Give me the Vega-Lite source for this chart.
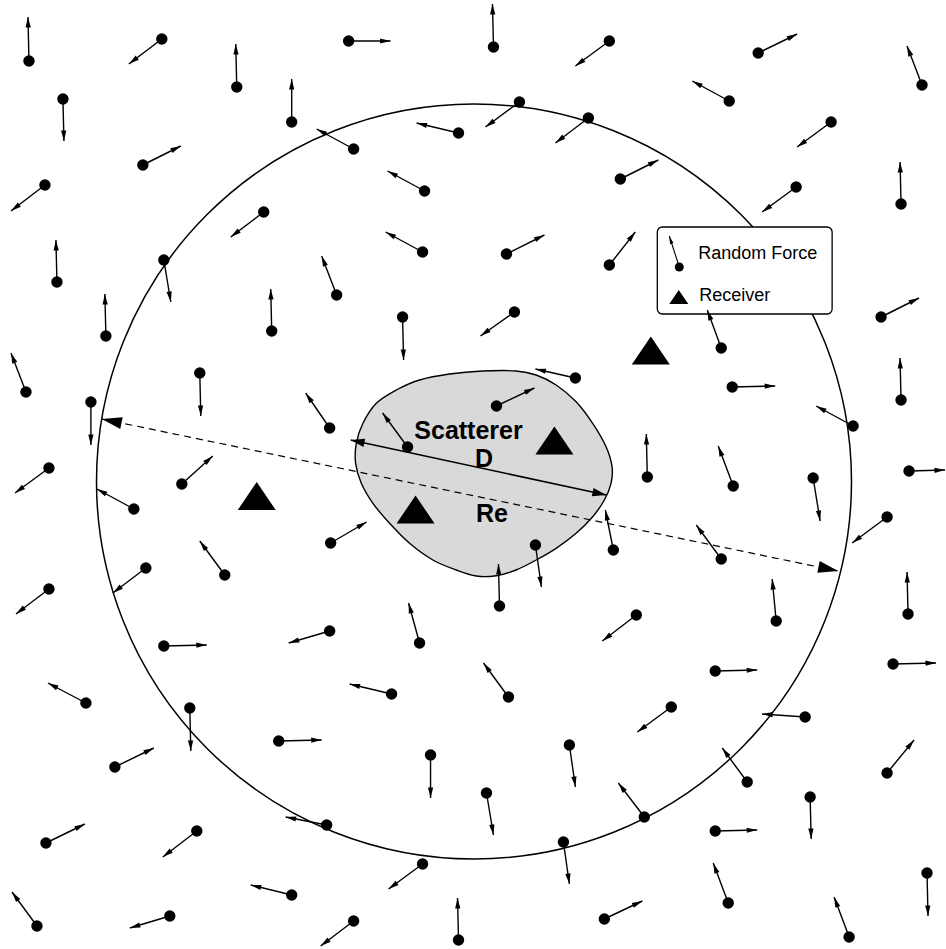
{
  "$schema": "https://vega.github.io/schema/vega-lite/v6.json",
  "width": 946,
  "height": 949,
  "padding": 0,
  "autosize": {"type": "fit", "contains": "padding"},
  "background": "white",
  "config": {"view": {"stroke": null}},
  "datasets": {
    "forces": [
      {"x":29,"y":61,"tx":28,"ty":17},{"x":162,"y":39,"tx":129,"ty":64},{"x":237,"y":87,"tx":236,"ty":44},
      {"x":349,"y":41,"tx":391,"ty":41},{"x":494,"y":47,"tx":493,"ty":4},{"x":610,"y":41,"tx":576,"ty":66},
      {"x":759,"y":53,"tx":798,"ty":34},{"x":923,"y":85,"tx":908,"ty":46},{"x":63,"y":99,"tx":64,"ty":141},
      {"x":292,"y":122,"tx":292,"ty":79},{"x":730,"y":101,"tx":693,"ty":81},{"x":520,"y":102,"tx":486,"ty":127},
      {"x":589,"y":118,"tx":556,"ty":143},{"x":459,"y":133,"tx":417,"ty":123},{"x":354,"y":149,"tx":317,"ty":129},
      {"x":832,"y":122,"tx":798,"ty":147},{"x":143,"y":165,"tx":181,"ty":146},{"x":45,"y":185,"tx":11,"ty":211},
      {"x":425,"y":191,"tx":388,"ty":171},{"x":621,"y":179,"tx":659,"ty":160},{"x":797,"y":187,"tx":763,"ty":212},
      {"x":902,"y":204,"tx":901,"ty":162},{"x":264,"y":212,"tx":231,"ty":237},{"x":57,"y":282,"tx":56,"ty":240},
      {"x":164,"y":260,"tx":171,"ty":302},{"x":423,"y":252,"tx":386,"ty":232},{"x":507,"y":254,"tx":545,"ty":235},
      {"x":610,"y":265,"tx":636,"ty":232},{"x":337,"y":295,"tx":322,"ty":256},{"x":106,"y":336,"tx":105,"ty":294},
      {"x":272,"y":331,"tx":271,"ty":289},{"x":403,"y":317,"tx":404,"ty":360},{"x":515,"y":312,"tx":481,"ty":336},
      {"x":882,"y":317,"tx":920,"ty":298},{"x":722,"y":348,"tx":708,"ty":310},{"x":26,"y":392,"tx":11,"ty":353},
      {"x":91,"y":402,"tx":91,"ty":445},{"x":200,"y":373,"tx":201,"ty":416},{"x":330,"y":428,"tx":306,"ty":393},
      {"x":576,"y":378,"tx":536,"ty":369},{"x":497,"y":406,"tx":535,"ty":388},{"x":408,"y":447,"tx":383,"ty":413},
      {"x":733,"y":387,"tx":776,"ty":386},{"x":902,"y":400,"tx":901,"ty":358},{"x":854,"y":426,"tx":817,"ty":406},
      {"x":49,"y":468,"tx":15,"ty":493},{"x":182,"y":484,"tx":213,"ty":456},{"x":134,"y":509,"tx":97,"ty":489},
      {"x":648,"y":477,"tx":647,"ty":434},{"x":734,"y":486,"tx":719,"ty":446},{"x":814,"y":478,"tx":821,"ty":521},
      {"x":910,"y":471,"tx":946,"ty":470},{"x":888,"y":517,"tx":853,"ty":543},{"x":614,"y":550,"tx":606,"ty":510},
      {"x":536,"y":545,"tx":542,"ty":587},{"x":331,"y":543,"tx":367,"ty":522},{"x":722,"y":559,"tx":697,"ty":525},
      {"x":225,"y":575,"tx":200,"ty":541},{"x":146,"y":568,"tx":113,"ty":593},{"x":49,"y":589,"tx":16,"ty":614},
      {"x":500,"y":606,"tx":499,"ty":564},{"x":420,"y":643,"tx":409,"ty":603},{"x":637,"y":615,"tx":603,"ty":641},
      {"x":777,"y":621,"tx":773,"ty":579},{"x":909,"y":614,"tx":908,"ty":572},{"x":164,"y":646,"tx":207,"ty":645},
      {"x":330,"y":631,"tx":289,"ty":643},{"x":86,"y":703,"tx":48,"ty":683},{"x":190,"y":708,"tx":191,"ty":751},
      {"x":279,"y":741,"tx":322,"ty":740},{"x":115,"y":767,"tx":154,"ty":748},{"x":197,"y":831,"tx":163,"ty":857},
      {"x":46,"y":843,"tx":85,"ty":824},{"x":292,"y":895,"tx":251,"ty":885},{"x":170,"y":916,"tx":130,"ty":928},
      {"x":37,"y":926,"tx":12,"ty":892},{"x":327,"y":825,"tx":286,"ty":817},{"x":392,"y":694,"tx":350,"ty":684},
      {"x":509,"y":697,"tx":484,"ty":663},{"x":431,"y":755,"tx":431,"ty":798},{"x":487,"y":793,"tx":494,"ty":835},
      {"x":570,"y":745,"tx":576,"ty":787},{"x":564,"y":842,"tx":570,"ty":884},{"x":423,"y":864,"tx":389,"ty":889},
      {"x":354,"y":921,"tx":321,"ty":946},{"x":459,"y":940,"tx":458,"ty":898},{"x":605,"y":919,"tx":643,"ty":901},
      {"x":645,"y":817,"tx":619,"ty":783},{"x":716,"y":671,"tx":758,"ty":670},{"x":894,"y":664,"tx":937,"ty":663},
      {"x":672,"y":707,"tx":638,"ty":732},{"x":806,"y":717,"tx":763,"ty":714},{"x":748,"y":782,"tx":723,"ty":748},
      {"x":888,"y":773,"tx":915,"ty":740},{"x":811,"y":797,"tx":812,"ty":839},{"x":716,"y":831,"tx":758,"ty":830},
      {"x":729,"y":903,"tx":714,"ty":863},{"x":928,"y":873,"tx":929,"ty":916},{"x":850,"y":937,"tx":835,"ty":897}
    ],
    "legendForce": [{"x":680,"y":267,"tx":670,"ty":236}],
    "blob": [
      {"i":0,"x":376.7,"y":403.3},{"i":1,"x":396.7,"y":390},{"i":2,"x":420,"y":380},{"i":3,"x":450,"y":374},
      {"i":4,"x":483.3,"y":371},{"i":5,"x":516.7,"y":371},{"i":6,"x":536.7,"y":375},{"i":7,"x":556.7,"y":385},
      {"i":8,"x":576.7,"y":401.7},{"i":9,"x":593.3,"y":423.3},{"i":10,"x":606.7,"y":446.7},{"i":11,"x":612.7,"y":466.7},
      {"i":12,"x":611.7,"y":483.3},{"i":13,"x":605,"y":500},{"i":14,"x":593.3,"y":516.7},{"i":15,"x":576.7,"y":533.3},
      {"i":16,"x":556.7,"y":548.3},{"i":17,"x":536.7,"y":560},{"i":18,"x":516.7,"y":570},{"i":19,"x":496.7,"y":575.7},
      {"i":20,"x":476.7,"y":576},{"i":21,"x":456.7,"y":570},{"i":22,"x":433.3,"y":560},{"i":23,"x":410,"y":543.3},
      {"i":24,"x":390,"y":523.3},{"i":25,"x":373.3,"y":503.3},{"i":26,"x":361.7,"y":483.3},{"i":27,"x":356,"y":463.3},
      {"i":28,"x":356.7,"y":443.3},{"i":29,"x":363.3,"y":423.3}
    ],
    "receivers": [{"x":257,"y":496},{"x":555,"y":440.5},{"x":416,"y":509.5},{"x":651.5,"y":350.5}],
    "legendReceiver": [{"x":679.5,"y":297}],
    "ring": [{"x":474.5,"y":481.5}],
    "dashed": [{"x":102,"y":419,"tx":839,"ty":571}],
    "diameter": [{"x":351,"y":440,"tx":607,"ty":495}],
    "box": [{"x":658,"y":227,"tx":833,"ty":314}],
    "labels": [
      {"x":469,"y":439,"label":"Scatterer"},
      {"x":484.5,"y":467,"label":"D"},
      {"x":492.5,"y":522,"label":"Re"}
    ],
    "legendLabels": [
      {"x":699,"y":259,"label":"Random Force"},
      {"x":700,"y":301,"label":"Receiver"}
    ]
  },
  "encoding": {
    "x": {"field": "x", "type": "quantitative", "scale": {"domain": [0, 946], "nice": false, "zero": false}, "axis": null},
    "y": {"field": "y", "type": "quantitative", "scale": {"domain": [0, 949], "nice": false, "zero": false, "reverse": true}, "axis": null}
  },
  "layer": [
    {
      "data": {"name": "ring"},
      "mark": {"type": "point", "shape": "circle", "size": 570025, "filled": false, "fill": null, "stroke": "black", "strokeWidth": 1.5, "opacity": 1}
    },
    {
      "data": {"name": "box"},
      "mark": {"type": "rect", "fill": "white", "stroke": "black", "strokeWidth": 1.3, "cornerRadius": 5},
      "encoding": {
        "x2": {"field": "tx"},
        "y2": {"field": "ty"}
      }
    },
    {
      "data": {"name": "blob"},
      "mark": {"type": "line", "interpolate": "cardinal-closed", "fill": "#d9d9d9", "stroke": "black", "strokeWidth": 1.4},
      "encoding": {"order": {"field": "i", "type": "quantitative"}}
    },
    {
      "data": {"name": "dashed"},
      "mark": {"type": "rule", "stroke": "black", "strokeWidth": 1.2, "strokeDash": [7, 5]},
      "encoding": {"x2": {"field": "tx"}, "y2": {"field": "ty"}}
    },
    {
      "data": {"name": "dashed"},
      "transform": [{"calculate": "atan2(datum.tx - datum.x, datum.y - datum.ty) * 180 / PI", "as": "ang"}],
      "mark": {"type": "point", "shape": "M0,0L-0.6,2L0.6,2Z", "size": 400, "filled": true, "color": "black", "opacity": 1},
      "encoding": {
        "x": {"field": "tx", "type": "quantitative", "scale": {"domain": [0, 946], "nice": false, "zero": false}, "axis": null},
        "y": {"field": "ty", "type": "quantitative", "scale": {"domain": [0, 949], "nice": false, "zero": false, "reverse": true}, "axis": null},
        "angle": {"field": "ang", "type": "quantitative", "scale": null}
      }
    },
    {
      "data": {"name": "dashed"},
      "transform": [{"calculate": "atan2(datum.x - datum.tx, datum.ty - datum.y) * 180 / PI", "as": "ang"}],
      "mark": {"type": "point", "shape": "M0,0L-0.6,2L0.6,2Z", "size": 400, "filled": true, "color": "black", "opacity": 1},
      "encoding": {"angle": {"field": "ang", "type": "quantitative", "scale": null}}
    },
    {
      "data": {"name": "diameter"},
      "mark": {"type": "rule", "stroke": "black", "strokeWidth": 1.6},
      "encoding": {"x2": {"field": "tx"}, "y2": {"field": "ty"}}
    },
    {
      "data": {"name": "diameter"},
      "transform": [{"calculate": "atan2(datum.tx - datum.x, datum.y - datum.ty) * 180 / PI", "as": "ang"}],
      "mark": {"type": "point", "shape": "M0,0L-0.6,2L0.6,2Z", "size": 196, "filled": true, "color": "black", "opacity": 1},
      "encoding": {
        "x": {"field": "tx", "type": "quantitative", "scale": {"domain": [0, 946], "nice": false, "zero": false}, "axis": null},
        "y": {"field": "ty", "type": "quantitative", "scale": {"domain": [0, 949], "nice": false, "zero": false, "reverse": true}, "axis": null},
        "angle": {"field": "ang", "type": "quantitative", "scale": null}
      }
    },
    {
      "data": {"name": "diameter"},
      "transform": [{"calculate": "atan2(datum.x - datum.tx, datum.ty - datum.y) * 180 / PI", "as": "ang"}],
      "mark": {"type": "point", "shape": "M0,0L-0.6,2L0.6,2Z", "size": 196, "filled": true, "color": "black", "opacity": 1},
      "encoding": {"angle": {"field": "ang", "type": "quantitative", "scale": null}}
    },
    {
      "data": {"name": "forces"},
      "mark": {"type": "rule", "stroke": "black", "strokeWidth": 1.4},
      "encoding": {"x2": {"field": "tx"}, "y2": {"field": "ty"}}
    },
    {
      "data": {"name": "forces"},
      "transform": [{"calculate": "atan2(datum.tx - datum.x, datum.y - datum.ty) * 180 / PI", "as": "ang"}],
      "mark": {"type": "point", "shape": "M0,0L-0.5,2L0.5,2Z", "size": 110, "filled": true, "color": "black", "opacity": 1},
      "encoding": {
        "x": {"field": "tx", "type": "quantitative", "scale": {"domain": [0, 946], "nice": false, "zero": false}, "axis": null},
        "y": {"field": "ty", "type": "quantitative", "scale": {"domain": [0, 949], "nice": false, "zero": false, "reverse": true}, "axis": null},
        "angle": {"field": "ang", "type": "quantitative", "scale": null}
      }
    },
    {
      "data": {"name": "forces"},
      "mark": {"type": "point", "shape": "circle", "size": 130, "filled": true, "color": "black", "opacity": 1}
    },
    {
      "data": {"name": "legendForce"},
      "mark": {"type": "rule", "stroke": "black", "strokeWidth": 1.1},
      "encoding": {"x2": {"field": "tx"}, "y2": {"field": "ty"}}
    },
    {
      "data": {"name": "legendForce"},
      "transform": [{"calculate": "atan2(datum.tx - datum.x, datum.y - datum.ty) * 180 / PI", "as": "ang"}],
      "mark": {"type": "point", "shape": "M0,0L-0.45,2L0.45,2Z", "size": 64, "filled": true, "color": "black", "opacity": 1},
      "encoding": {
        "x": {"field": "tx", "type": "quantitative", "scale": {"domain": [0, 946], "nice": false, "zero": false}, "axis": null},
        "y": {"field": "ty", "type": "quantitative", "scale": {"domain": [0, 949], "nice": false, "zero": false, "reverse": true}, "axis": null},
        "angle": {"field": "ang", "type": "quantitative", "scale": null}
      }
    },
    {
      "data": {"name": "legendForce"},
      "mark": {"type": "point", "shape": "circle", "size": 81, "filled": true, "color": "black", "opacity": 1}
    },
    {
      "data": {"name": "receivers"},
      "mark": {"type": "point", "shape": "M0,-0.74L1,0.74L-1,0.74Z", "size": 1444, "filled": true, "color": "black", "opacity": 1}
    },
    {
      "data": {"name": "legendReceiver"},
      "mark": {"type": "point", "shape": "M0,-0.74L1,0.74L-1,0.74Z", "size": 361, "filled": true, "color": "black", "opacity": 1}
    },
    {
      "data": {"name": "labels"},
      "mark": {"type": "text", "font": "Liberation Sans", "fontSize": 25, "fontWeight": "bold", "align": "center", "baseline": "alphabetic", "color": "black"},
      "encoding": {"text": {"field": "label"}}
    },
    {
      "data": {"name": "legendLabels"},
      "mark": {"type": "text", "font": "Liberation Sans", "fontSize": 18, "align": "left", "baseline": "alphabetic", "color": "black"},
      "encoding": {"text": {"field": "label"}}
    }
  ]
}
